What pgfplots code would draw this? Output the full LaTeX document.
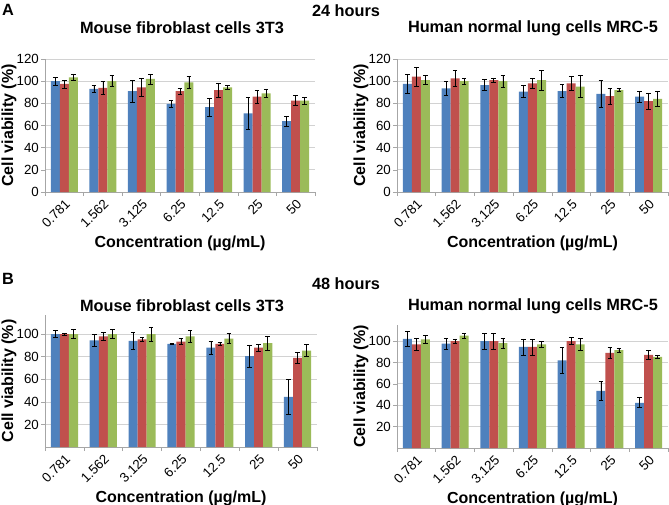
\documentclass[border=0pt]{standalone}
\usepackage{fontspec}
\setmainfont{Liberation Sans}
\usepackage{pgfplots}
\usepackage{pgfplotstable}
\pgfplotsset{compat=1.18}
\definecolor{cb}{HTML}{4F81BD}
\definecolor{cr}{HTML}{C0504D}
\definecolor{cg}{HTML}{9BBB59}

% columns: category, blue, blue err, red, red err, green, green err
\pgfplotstableread{
x b be r re g ge
0 100 3.5 97.5 3.5 103.5 3
1 93 3 94 6 100 5
2 91 10 94.5 8 102 4.5
3 79.5 3.5 91 2.5 99 5.5
4 76.5 8 92 6.5 94.5 2
5 71 14 86 6 89 4
6 64 4.5 82.5 4.5 82.5 3
}\tAL
\pgfplotstableread{
x b be r re g ge
0 97.5 8.5 104 8.5 101 4
1 93.5 6.5 102.5 7 100 2.5
2 96.5 5 101 2 100 5.5
3 90.5 5.5 98 4.5 101 9
4 91 6 98 6 95 10
5 88.5 12 86.5 7 92 1.5
6 86 5 82 7.5 84 6.7
}\tAR
\pgfplotstableread{
x b be r re g ge
0 100 3 100 1 100 4
1 94.5 5 98 3.5 100 4
2 94 7.5 95.5 2 100 6.5
3 91.5 0.3 93.5 2.5 98 5.5
4 88 6 91.5 1.5 96 4.5
5 80.5 10 88 3 92 6.5
6 44.5 15.5 79 4.5 85.5 5.5
}\tBL
\pgfplotstableread{
x b be r re g ge
0 102 7 97 5.7 101.5 4
1 97.5 5 100 2 105 2.5
2 100 7.5 100 7.5 98 4.5
3 94.5 7.5 94.5 7.5 97 3
4 82 12 100 3.5 97 5.6
5 53.5 8.5 89 5 91.5 2
6 42.3 4.7 87 4.4 85.3 1.7
}\tBR

\pgfplotsset{
  panel/.style={
    scale only axis,
    anchor=south west,
    xmin=-0.5, xmax=6.5, ymin=0,
    xtick={0,...,6},
    xticklabels={0.781,1.562,3.125,6.25,12.5,25,50},
    minor xtick={-0.5,0.5,...,6.5},
    major x tick style={draw=none},
    minor tick length=4pt,
    major tick length=4pt,
    tick align=outside,
    tick style={gray!70, line width=0.6pt},
    axis x line*=bottom, axis y line*=left,
    axis line style={gray!70, line width=0.8pt, -},
    ymajorgrids, grid style={gray!35, line width=0.7pt},
    /pgf/number format/assume math mode=true,
    tick label style={font=\fontsize{13.3}{14}\selectfont},
    x tick label style={rotate=45, anchor=north east, inner sep=1.5pt},
    y tick label style={inner sep=2pt},
    every axis y label/.style={at={(axis description cs:0,0.5)}, xshift=-36pt, rotate=90, anchor=center, font=\fontsize{16}{16}\selectfont\bfseries},
    every axis x label/.style={at={(axis description cs:0.5,0)}, yshift=-51pt, anchor=center, font=\fontsize{16}{16}\selectfont\bfseries},
    ylabel={Cell viability (\%)},
    xlabel={Concentration (µg/mL)},
    error bars/y dir=both, error bars/y explicit,
    error bars/error bar style={black, line width=0.6pt},
    error bars/error mark options={rotate=90, mark size=2.3pt, black, line width=0.6pt},
  },
  pb/.style={ybar, bar width=0.233, bar shift=0, fill=cb, draw=none},
  pr/.style={ybar, bar width=0.233, bar shift=0, fill=cr, draw=none},
  pg/.style={ybar, bar width=0.233, bar shift=0, fill=cg, draw=none},
}

\begin{document}
\begin{tikzpicture}
\useasboundingbox (0pt,0pt) rectangle (669pt,-505pt);
\tikzset{hd/.style={font=\fontsize{16.3}{16}\selectfont\bfseries, inner sep=0pt}}
\node[hd, anchor=west] at (2pt,-10pt) {A};
\node[hd] at (346pt,-11pt) {24 hours};
\node[hd] at (182pt,-28pt) {Mouse fibroblast cells 3T3};
\node[hd] at (533pt,-28pt) {Human normal lung cells MRC-5};
\node[hd, anchor=west] at (2pt,-279pt) {B};
\node[hd] at (346pt,-284pt) {48 hours};
\node[hd] at (182pt,-306pt) {Mouse fibroblast cells 3T3};
\node[hd] at (533pt,-306pt) {Human normal lung cells MRC-5};

\begin{axis}[panel, at={(45pt,-192pt)}, width=270pt, height=133pt, ymax=120, ytick={0,20,...,120}]
\addplot[pb] table[x expr=\thisrow{x}-0.233, y=b, y error=be] {\tAL};
\addplot[pr] table[x=x, y=r, y error=re] {\tAL};
\addplot[pg] table[x expr=\thisrow{x}+0.233, y=g, y error=ge] {\tAL};
\end{axis}

\begin{axis}[panel, at={(397pt,-192pt)}, width=271pt, height=133pt, ymax=120, ytick={0,20,...,120}]
\addplot[pb] table[x expr=\thisrow{x}-0.233, y=b, y error=be] {\tAR};
\addplot[pr] table[x=x, y=r, y error=re] {\tAR};
\addplot[pg] table[x expr=\thisrow{x}+0.233, y=g, y error=ge] {\tAR};
\end{axis}

\begin{axis}[panel, at={(45pt,-447pt)}, width=272pt, height=132pt, ymax=117, ytick={20,40,...,100}]
\addplot[pb] table[x expr=\thisrow{x}-0.233, y=b, y error=be] {\tBL};
\addplot[pr] table[x=x, y=r, y error=re] {\tBL};
\addplot[pg] table[x expr=\thisrow{x}+0.233, y=g, y error=ge] {\tBL};
\end{axis}

\begin{axis}[panel, at={(397pt,-448pt)}, width=271pt, height=123pt, ymax=115, ytick={20,40,...,100}]
\addplot[pb] table[x expr=\thisrow{x}-0.233, y=b, y error=be] {\tBR};
\addplot[pr] table[x=x, y=r, y error=re] {\tBR};
\addplot[pg] table[x expr=\thisrow{x}+0.233, y=g, y error=ge] {\tBR};
\end{axis}
\end{tikzpicture}
\end{document}
